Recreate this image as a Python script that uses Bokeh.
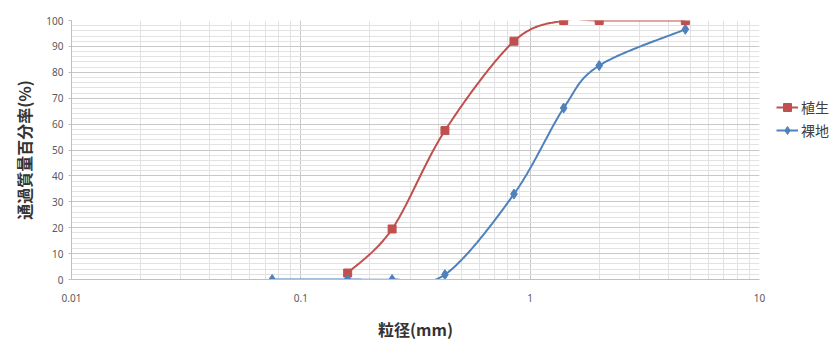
import numpy as np
from bokeh.plotting import figure
from bokeh.models import FixedTicker, CustomJSTickFormatter, Legend, LegendItem
from bokeh.embed import file_html
from bokeh.resources import INLINE

# ---- data ----
series_names = ["植生", "裸地"]
sizes_veg = [0.16, 0.25, 0.425, 0.85, 1.4, 2.0, 4.75]
pass_veg = [2.5, 19.5, 57.5, 92.0, 100.0, 100.0, 100.0]
sizes_bare = [0.075, 0.16, 0.25, 0.425, 0.85, 1.4, 2.0, 4.75]
pass_bare = [0.0, 0.0, 0.0, 1.9, 33.0, 66.2, 82.6, 96.6]
x_ticks = [0.01, 0.1, 1, 10]
y_ticks = list(range(0, 101, 10))
x_label = "粒径(mm)"
y_label = "通過質量百分率(%)"

RED = "#C0504D"
BLUE = "#4F81BD"


def smooth(xs, ys, n=40):
    """Excel-like smoothed line (Bezier, tension 1/6) in log-x space."""
    P = np.column_stack([np.log10(xs), np.asarray(ys, float)])
    m = len(P)
    out = [P[0]]
    t = np.linspace(0, 1, n)[1:, None]
    for i in range(m - 1):
        p0 = P[i - 1] if i > 0 else P[i]
        p1, p2 = P[i], P[i + 1]
        p3 = P[i + 2] if i + 2 < m else P[i + 1]
        c1 = p1 + (p2 - p0) / 6
        c2 = p2 - (p3 - p1) / 6
        B = (1 - t) ** 3 * p1 + 3 * (1 - t) ** 2 * t * c1 + 3 * (1 - t) * t ** 2 * c2 + t ** 3 * p2
        out.extend(B)
    out = np.array(out)
    return 10 ** out[:, 0], out[:, 1]


p = figure(frame_width=688, frame_height=259, x_axis_type="log", x_range=(0.01, 10), y_range=(0, 100),
           output_backend="svg", toolbar_location=None,
           min_border_left=71, min_border_right=72, min_border_top=20, min_border_bottom=60)
p.outline_line_color = None
p.background_fill_color = "white"
p.border_fill_color = "white"

# axes
minor_x = [m * 10.0 ** e for e in (-2, -1, 0) for m in range(2, 10)]
p.xaxis.ticker = FixedTicker(ticks=x_ticks, minor_ticks=minor_x)
p.yaxis.ticker = FixedTicker(ticks=y_ticks, minor_ticks=list(range(0, 101, 2)))
p.xaxis.formatter = CustomJSTickFormatter(code="return String(tick);")

for ax in (p.xaxis[0], p.yaxis[0]):
    ax.axis_line_color = "#BFBFBF"
    ax.major_tick_line_color = "#BFBFBF"
    ax.minor_tick_line_color = None
    ax.major_tick_in = 0
    ax.major_label_text_font = "Noto Sans"
    ax.major_label_text_font_size = "10px"
    ax.major_label_text_color = "#595959"
    ax.axis_label_text_font = "Noto Sans CJK JP"
    ax.axis_label_text_font_style = "bold"
    ax.axis_label_text_font_size = "16px"
    ax.axis_label_text_color = "#333333"

p.xaxis.major_tick_out = 0
p.xaxis.major_label_standoff = 10
p.xaxis.axis_label = x_label
p.xaxis.axis_label_standoff = 12
p.yaxis.major_tick_out = 3
p.yaxis.major_label_standoff = 4
p.yaxis.axis_label = y_label
p.yaxis.axis_label_standoff = 7

# grids
for g in (p.xgrid[0], p.ygrid[0]):
    g.grid_line_color = "#C8C8C8"
    g.grid_line_width = 1
    g.minor_grid_line_color = "#E2E2E2"
    g.minor_grid_line_width = 1

# series
xv, yv = smooth(sizes_veg, pass_veg)
xb, yb = smooth(sizes_bare, pass_bare)
l1 = p.line(xv, yv, line_color=RED, line_width=2)
s1 = p.scatter(sizes_veg, pass_veg, marker="square", size=8, fill_color=RED, line_color=RED)
l2 = p.line(xb, yb, line_color=BLUE, line_width=2)
s2 = p.scatter(sizes_bare, pass_bare, marker="diamond", size=10, fill_color=BLUE, line_color=BLUE)

legend = Legend(items=[LegendItem(label=series_names[0], renderers=[l1, s1]),
                       LegendItem(label=series_names[1], renderers=[l2, s2])],
                location=(17, 139))
legend.background_fill_alpha = 0
legend.border_line_alpha = 0
legend.padding = 0
legend.margin = 0
legend.spacing = 3
legend.glyph_height = 20
legend.glyph_width = 22
legend.label_standoff = 3
legend.label_text_font = "Noto Sans CJK JP"
legend.label_text_font_size = "14px"
legend.label_text_color = "#404040"
p.add_layout(legend, "right")

open("out.html", "w").write(file_html(p, INLINE))
